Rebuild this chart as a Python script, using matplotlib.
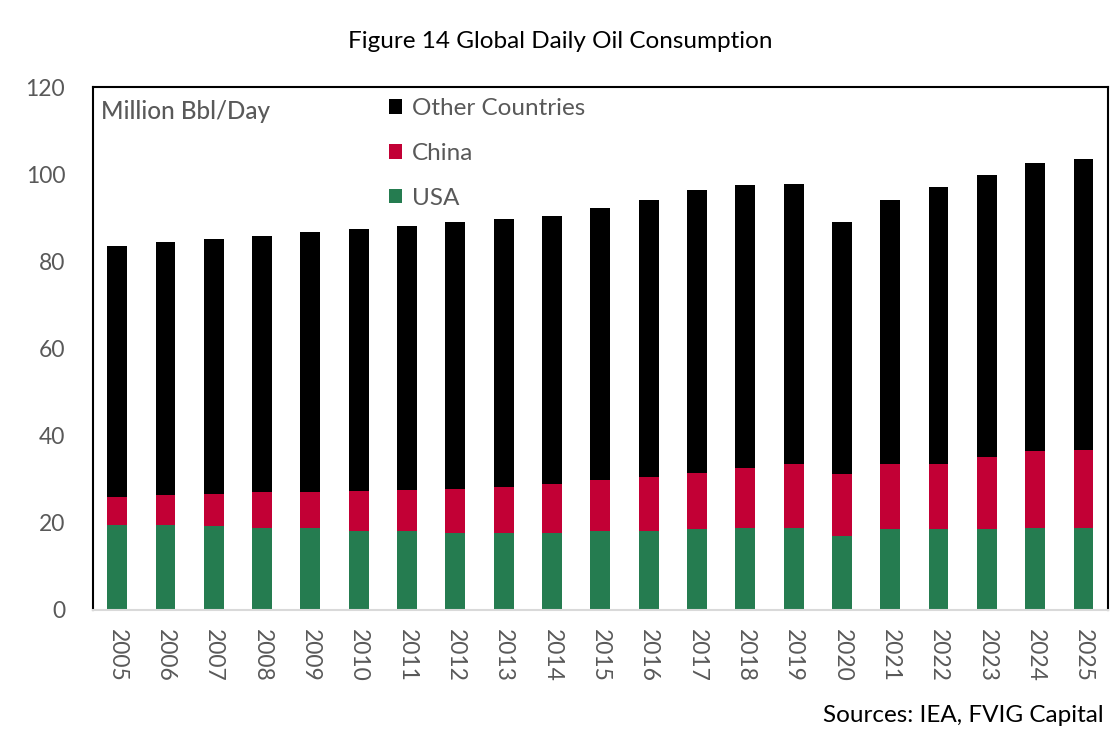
import numpy as np
import matplotlib
matplotlib.use("Agg")
import matplotlib.pyplot as plt

plt.rcParams["font.family"] = ["Lato", "DejaVu Sans"]

# Million barrels per day
years = [str(y) for y in range(2005, 2026)]
usa = [19.6, 19.4, 19.2, 18.9, 18.7, 18.2, 18.0, 17.7, 17.6, 17.7, 18.0,
       18.2, 18.5, 18.9, 18.9, 16.9, 18.5, 18.5, 18.5, 18.7, 18.7]
china = [6.4, 6.9, 7.5, 8.1, 8.4, 9.2, 9.6, 10.1, 10.5, 11.1, 11.9,
         12.2, 13.0, 13.7, 14.5, 14.2, 14.9, 14.9, 16.7, 17.7, 17.9]
other = [57.5, 58.1, 58.4, 58.8, 59.6, 60.0, 60.5, 61.2, 61.6, 61.6, 62.3,
         63.8, 64.8, 65.0, 64.3, 57.9, 60.8, 63.8, 64.6, 66.1, 67.0]

GREEN = "#257C50"
RED = "#C20035"
GRAY = "#595959"

fig = plt.figure(figsize=(11.2, 7.52), dpi=100)
ax = fig.add_axes([0.083, 0.189, 0.906, 0.695])

x = np.arange(len(years))
w = 0.41
usa_a = np.array(usa)
china_a = np.array(china)
ax.bar(x, usa, w, color=GREEN, label="USA")
ax.bar(x, china, w, bottom=usa_a, color=RED, label="China")
ax.bar(x, other, w, bottom=usa_a + china_a, color="black", label="Other Countries")

ax.set_xlim(-0.5, len(years) - 0.5)
ax.set_ylim(0, 120)
ax.set_yticks(range(0, 121, 20))
ax.set_xticks(x)
ax.set_xticklabels(years, rotation=270)
ax.tick_params(axis="both", length=0, labelsize=16.5, labelcolor=GRAY)
ax.tick_params(axis="y", pad=20)
ax.tick_params(axis="x", pad=14)

for side in ["left", "top", "right"]:
    ax.spines[side].set_color("black")
    ax.spines[side].set_linewidth(1.5)
ax.spines["bottom"].set_color("#D9D9D9")
ax.spines["bottom"].set_linewidth(1.5)

handles, labels = ax.get_legend_handles_labels()
leg = ax.legend(handles[::-1], labels[::-1], loc="upper left",
                bbox_to_anchor=(0.27, 1.021), frameon=False, fontsize=17.5,
                labelcolor=GRAY, handlelength=0.55, handleheight=0.55,
                handletextpad=0.4, labelspacing=0.98)

ax.text(0.008, 0.953, "Million Bbl/Day", transform=ax.transAxes,
        fontsize=17.5, color=GRAY, fontweight="medium", va="center", ha="left")

fig.text(0.5, 0.945, "Figure 14 Global Daily Oil Consumption",
         fontsize=17.5, color="black", ha="center", va="center")
fig.text(0.985, 0.049, "Sources: IEA, FVIG Capital",
         fontsize=17.5, color="black", ha="right", va="center")

fig.savefig("out.png", dpi=100)
